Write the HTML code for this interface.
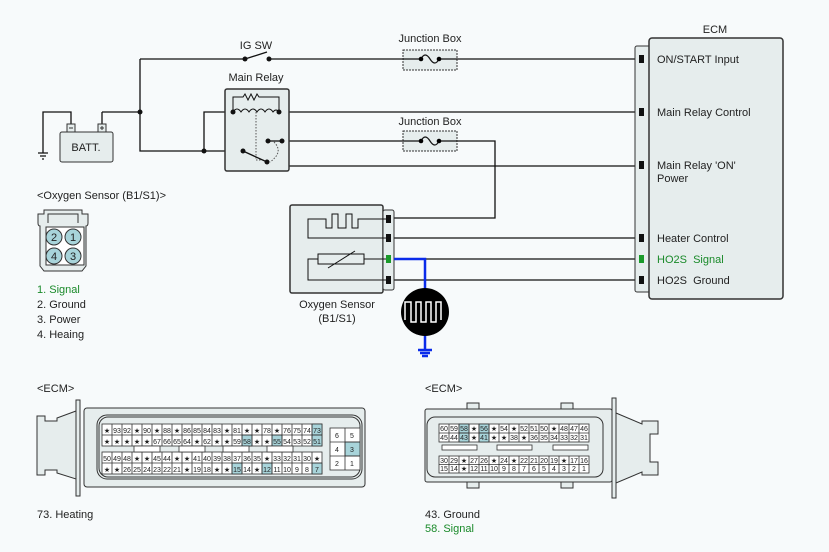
<!DOCTYPE html>
<html><head><meta charset="utf-8"><style>
body{margin:0;background:#f7fafb}
svg{display:block;font-family:"Liberation Sans",sans-serif}
.c text{font-size:7px;text-anchor:middle}
.pre{white-space:pre}
</style></head><body>
<svg width="829" height="552" viewBox="0 0 829 552" xmlns="http://www.w3.org/2000/svg">
<rect width="829" height="552" fill="#f7fafb"/>
<g fill="none" stroke="#111" stroke-width="1.3">
<path d="M140 59H245M269 59H403M457 59H637"/>
<path d="M245 59L267 52"/>
<path d="M140 59V151H204"/>
<path d="M204 151H243M204 151V112H233"/>
<path d="M102 112H140"/>
<path d="M102 112V124M71 124V112H43V153"/>
<path d="M38 153H48M40 156H46M42 159H44"/>
<path d="M279 112H637"/>
<path d="M289 141H403M457 141H495V218H394"/>
<path d="M282 141V166H637"/>
<path d="M394 238H637M394 259H637M394 280H637"/>
</g>
<rect x="60" y="132" width="53" height="30" rx="2" fill="#e6eded" stroke="#333"/>
<rect x="67" y="124" width="8" height="8" fill="#e6eded" stroke="#333"/>
<rect x="98" y="124" width="8" height="8" fill="#e6eded" stroke="#333"/>
<path d="M69 128h4M100 128h4M102 126v4" stroke="#333"/>
<text x="86" y="151" font-size="11" text-anchor="middle" fill="#222">BATT.</text>
<rect x="225" y="89" width="64" height="82" rx="2" fill="#e6eded" stroke="#333" stroke-width="1.5"/>
<path d="M233 112V97H243l2-3 3 6 3-6 3 6 3-6 2 3H279V112" fill="none" stroke="#111"/>
<path d="M233 112q4-6 8 0q4-6 8 0q4-6 8 0q4-6 8 0q4-6 8 0q3-4 6 0" fill="none" stroke="#111"/>
<path d="M256 112V160H265" stroke="#555" stroke-dasharray="1.5 1.5" fill="none"/>
<path d="M274 142q10 10 -4 20" stroke="#555" stroke-dasharray="1.5 1.5" fill="none"/>
<path d="M243 151L267 162" stroke="#111" stroke-width="1.3"/>
<path d="M268 141H282" stroke="#111" stroke-width="1.3"/>
<g fill="#111">
<circle cx="140" cy="112" r="2.5"/><circle cx="204" cy="151" r="2.5"/>
<circle cx="245" cy="59" r="2.5"/><circle cx="269" cy="59" r="2.5"/>
<circle cx="233" cy="112" r="2.5"/><circle cx="279" cy="112" r="2.5"/>
<circle cx="243" cy="151" r="2.5"/><circle cx="267" cy="162" r="2.5"/>
<circle cx="268" cy="141" r="2.5"/><circle cx="282" cy="141" r="2.5"/>
</g>
<text x="256" y="49" font-size="11" text-anchor="middle" fill="#222">IG SW</text>
<text x="256" y="81" font-size="11" text-anchor="middle" fill="#222">Main Relay</text>
<g>
<rect x="403" y="50" width="54" height="20" fill="#e6eded" stroke="#333" stroke-dasharray="2 1"/>
<path d="M403 59H421M439 59H457M421 59q4-8 9 0t9 0" fill="none" stroke="#111" stroke-width="1.2"/>
<circle cx="421" cy="59" r="2.3"/><circle cx="439" cy="59" r="2.3"/>
<rect x="403" y="131" width="54" height="20" fill="#e6eded" stroke="#333" stroke-dasharray="2 1"/>
<path d="M403 141H421M439 141H457M421 141q4-8 9 0t9 0" fill="none" stroke="#111" stroke-width="1.2"/>
<circle cx="421" cy="141" r="2.3"/><circle cx="439" cy="141" r="2.3"/>
</g>
<text x="430" y="42" font-size="11" text-anchor="middle" fill="#222">Junction Box</text>
<text x="430" y="125" font-size="11" text-anchor="middle" fill="#222">Junction Box</text>
<rect x="635" y="46" width="16" height="246" rx="2" fill="#e6eded" stroke="#333"/>
<rect x="649" y="38" width="134" height="261" rx="3" fill="#e6eded" stroke="#333" stroke-width="1.5"/>
<g fill="#111"><rect x="639" y="55" width="5" height="8"/><rect x="639" y="108" width="5" height="8"/><rect x="639" y="161" width="5" height="8"/><rect x="639" y="234" width="5" height="8"/><rect x="639" y="276" width="5" height="8"/></g>
<rect x="639" y="255" width="5" height="8" fill="#1a9a2a"/>
<g font-size="11" fill="#222">
<text x="715" y="33" text-anchor="middle">ECM</text>
<text x="657" y="63">ON/START Input</text>
<text x="657" y="116">Main Relay Control</text>
<text x="657" y="169">Main Relay 'ON'</text>
<text x="657" y="182">Power</text>
<text x="657" y="242">Heater Control</text>
<text x="657" y="263" fill="#1a8a2a" class="pre">HO2S  Signal</text>
<text x="657" y="284" class="pre">HO2S  Ground</text>
</g>
<rect x="290" y="205" width="93" height="88" rx="2" fill="#e6eded" stroke="#333" stroke-width="1.5"/>
<rect x="383" y="210" width="11" height="80" rx="2" fill="#e6eded" stroke="#333"/>
<path d="M388 219H358V228H352V214H346V228H338V214H332V228H326V219H308V238H388" fill="none" stroke="#111"/>
<path d="M388 259H364M318 259H308V280H388" fill="none" stroke="#111"/>
<rect x="318" y="254" width="46" height="10" fill="none" stroke="#111"/>
<path d="M328 268L355 251" stroke="#111"/>
<g fill="#111"><rect x="386" y="215" width="5" height="8"/><rect x="386" y="234" width="5" height="8"/><rect x="386" y="276" width="5" height="8"/></g>
<path d="M394 259H425V350M418 350H432M420 353H430M422 356H428" fill="none" stroke="#0a2bea" stroke-width="2.5"/>
<rect x="386" y="255" width="5" height="8" fill="#1a9a2a"/>
<circle cx="425" cy="312" r="24" fill="#000"/>
<path d="M405 320V302H411V322H416V302H421V322H426V302H431V322H436V302H441V320" fill="none" stroke="#fff" stroke-width="1.5"/>
<text x="337" y="308" font-size="11" text-anchor="middle" fill="#222">Oxygen Sensor</text>
<text x="337" y="322" font-size="11" text-anchor="middle" fill="#222">(B1/S1)</text>
<text x="37" y="199" font-size="11" fill="#222">&lt;Oxygen Sensor (B1/S1)&gt;</text>
<path d="M38 223V214H44V210H82V214H88V223Q88 226 86 226V266L82 271H44L40 266V226Q38 226 38 223Z" fill="#e6eded" stroke="#333"/>
<path d="M48 223V214H78V223" fill="none" stroke="#333"/>
<rect x="46" y="227" width="38" height="38" fill="#fff" stroke="#333"/>
<g fill="#a8d4da" stroke="#333"><circle cx="54" cy="237" r="8"/><circle cx="73" cy="237" r="8"/><circle cx="54" cy="256" r="8"/><circle cx="73" cy="256" r="8"/></g>
<g font-size="11" text-anchor="middle" fill="#222"><text x="54" y="241">2</text><text x="73" y="241">1</text><text x="54" y="260">4</text><text x="73" y="260">3</text></g>
<g font-size="11" fill="#222">
<text x="37" y="293" fill="#1a8a2a">1. Signal</text>
<text x="37" y="308">2. Ground</text>
<text x="37" y="323">3. Power</text>
<text x="37" y="338">4. Heaing</text>
<text x="37" y="392">&lt;ECM&gt;</text>
<text x="37" y="518">73. Heating</text>
<text x="425" y="392">&lt;ECM&gt;</text>
<text x="425" y="518">43. Ground</text>
<text x="425" y="532" fill="#1a8a2a">58. Signal</text>
</g>
<path d="M37 416H45V421H57V418L76 411V479L57 473V470H45V475H37Z" fill="#e6eded" stroke="#333"/>
<rect x="76" y="400" width="4" height="96" fill="#e6eded" stroke="#333"/>
<rect x="84" y="408" width="281" height="79" rx="3" fill="#e6eded" stroke="#333"/>
<rect x="97" y="415" width="265" height="64" rx="10" fill="none" stroke="#333"/>
<rect x="99" y="417" width="261" height="60" rx="9" fill="none" stroke="#333"/>
<g class="c" stroke="#333" stroke-width="0.8">
<rect x="102" y="424" width="220" height="22" fill="#fff"/>
<rect x="102" y="452" width="220" height="22" fill="#fff"/>
<g fill="#a8d4da"><rect x="312" y="424" width="10" height="11"/><rect x="242" y="435" width="10" height="11"/><rect x="272" y="435" width="10" height="11"/><rect x="312" y="435" width="10" height="11"/><rect x="232" y="463" width="10" height="11"/><rect x="262" y="463" width="10" height="11"/><rect x="312" y="463" width="10" height="11"/></g>
<path d="M102 435H322M102 463H322M112 424V446M122 424V446M132 424V446M142 424V446M152 424V446M162 424V446M172 424V446M182 424V446M192 424V446M202 424V446M212 424V446M222 424V446M232 424V446M242 424V446M252 424V446M262 424V446M272 424V446M282 424V446M292 424V446M302 424V446M312 424V446M112 452V474M122 452V474M132 452V474M142 452V474M152 452V474M162 452V474M172 452V474M182 452V474M192 452V474M202 452V474M212 452V474M222 452V474M232 452V474M242 452V474M252 452V474M262 452V474M272 452V474M282 452V474M292 452V474M302 452V474M312 452V474" fill="none"/>
<g fill="#fff"><rect x="134" y="446" width="26" height="6"/><rect x="179" y="446" width="26" height="6"/><rect x="223" y="446" width="26" height="6"/><rect x="267" y="446" width="26" height="6"/></g>
<rect x="330" y="428" width="30" height="42" fill="#fff"/>
<rect x="345" y="442" width="15" height="14" fill="#a8d4da"/>
<path d="M345 428V470M330 442H360M330 456H360" fill="none"/>
</g>
<g class="c" fill="#222">
<text x="107" y="433">★</text><text x="117" y="433">93</text><text x="127" y="433">92</text><text x="137" y="433">★</text><text x="147" y="433">90</text><text x="157" y="433">★</text><text x="167" y="433">88</text><text x="177" y="433">★</text><text x="187" y="433">86</text><text x="197" y="433">85</text><text x="207" y="433">84</text><text x="217" y="433">83</text><text x="227" y="433">★</text><text x="237" y="433">81</text><text x="247" y="433">★</text><text x="257" y="433">★</text><text x="267" y="433">78</text><text x="277" y="433">★</text><text x="287" y="433">76</text><text x="297" y="433">75</text><text x="307" y="433">74</text><text x="317" y="433">73</text>
<text x="107" y="444">★</text><text x="117" y="444">★</text><text x="127" y="444">★</text><text x="137" y="444">★</text><text x="147" y="444">★</text><text x="157" y="444">67</text><text x="167" y="444">66</text><text x="177" y="444">65</text><text x="187" y="444">64</text><text x="197" y="444">★</text><text x="207" y="444">62</text><text x="217" y="444">★</text><text x="227" y="444">★</text><text x="237" y="444">59</text><text x="247" y="444">58</text><text x="257" y="444">★</text><text x="267" y="444">★</text><text x="277" y="444">55</text><text x="287" y="444">54</text><text x="297" y="444">53</text><text x="307" y="444">52</text><text x="317" y="444">51</text>
<text x="107" y="461">50</text><text x="117" y="461">49</text><text x="127" y="461">48</text><text x="137" y="461">★</text><text x="147" y="461">★</text><text x="157" y="461">45</text><text x="167" y="461">44</text><text x="177" y="461">★</text><text x="187" y="461">★</text><text x="197" y="461">41</text><text x="207" y="461">40</text><text x="217" y="461">39</text><text x="227" y="461">38</text><text x="237" y="461">37</text><text x="247" y="461">36</text><text x="257" y="461">35</text><text x="267" y="461">★</text><text x="277" y="461">33</text><text x="287" y="461">32</text><text x="297" y="461">31</text><text x="307" y="461">30</text><text x="317" y="461">★</text>
<text x="107" y="472">★</text><text x="117" y="472">★</text><text x="127" y="472">26</text><text x="137" y="472">25</text><text x="147" y="472">24</text><text x="157" y="472">23</text><text x="167" y="472">22</text><text x="177" y="472">21</text><text x="187" y="472">★</text><text x="197" y="472">19</text><text x="207" y="472">18</text><text x="217" y="472">★</text><text x="227" y="472">★</text><text x="237" y="472">15</text><text x="247" y="472">14</text><text x="257" y="472">★</text><text x="267" y="472">12</text><text x="277" y="472">11</text><text x="287" y="472">10</text><text x="297" y="472">9</text><text x="307" y="472">8</text><text x="317" y="472">7</text>
<text x="337" y="438">6</text><text x="352" y="438">5</text><text x="337" y="452">4</text><text x="352" y="452">3</text><text x="337" y="466">2</text><text x="352" y="466">1</text>
</g>
<rect x="467" y="403" width="12" height="8" fill="#e6eded" stroke="#333"/><rect x="561" y="403" width="12" height="8" fill="#e6eded" stroke="#333"/>
<rect x="467" y="480" width="12" height="8" fill="#e6eded" stroke="#333"/><rect x="561" y="480" width="12" height="8" fill="#e6eded" stroke="#333"/>
<rect x="425" y="409" width="187" height="73" rx="2" fill="#e6eded" stroke="#333"/>
<rect x="427" y="417" width="176" height="60" rx="8" fill="none" stroke="#333"/>
<rect x="612" y="398" width="4" height="100" fill="#e6eded" stroke="#333"/>
<path d="M616 413L642 424V421H658V434H650V462H658V475H642V472L616 483Z" fill="#e6eded" stroke="#333"/>
<g stroke="#333" stroke-width="0.8">
<rect x="439" y="424" width="150" height="18" fill="#fff"/>
<rect x="439" y="456" width="150" height="17" fill="#fff"/>
<g fill="#a8d4da"><rect x="459" y="424" width="10" height="9"/><rect x="479" y="424" width="10" height="9"/><rect x="459" y="433" width="10" height="9"/><rect x="479" y="433" width="10" height="9"/></g>
<path d="M439 433H589M439 464.5H589M449 424V442M459 424V442M469 424V442M479 424V442M489 424V442M499 424V442M509 424V442M519 424V442M529 424V442M539 424V442M549 424V442M559 424V442M569 424V442M579 424V442M449 456V473M459 456V473M469 456V473M479 456V473M489 456V473M499 456V473M509 456V473M519 456V473M529 456V473M539 456V473M549 456V473M559 456V473M569 456V473M579 456V473" fill="none"/>
<g fill="#fff"><rect x="442" y="445" width="35" height="5"/><rect x="497" y="445" width="35" height="5"/><rect x="553" y="445" width="35" height="5"/></g>
</g>
<g class="c" fill="#222">
<text x="444" y="431">60</text><text x="454" y="431">59</text><text x="464" y="431">58</text><text x="474" y="431">★</text><text x="484" y="431">56</text><text x="494" y="431">★</text><text x="504" y="431">54</text><text x="514" y="431">★</text><text x="524" y="431">52</text><text x="534" y="431">51</text><text x="544" y="431">50</text><text x="554" y="431">★</text><text x="564" y="431">48</text><text x="574" y="431">47</text><text x="584" y="431">46</text>
<text x="444" y="440">45</text><text x="454" y="440">44</text><text x="464" y="440">43</text><text x="474" y="440">★</text><text x="484" y="440">41</text><text x="494" y="440">★</text><text x="504" y="440">★</text><text x="514" y="440">38</text><text x="524" y="440">★</text><text x="534" y="440">36</text><text x="544" y="440">35</text><text x="554" y="440">34</text><text x="564" y="440">33</text><text x="574" y="440">32</text><text x="584" y="440">31</text>
<text x="444" y="463">30</text><text x="454" y="463">29</text><text x="464" y="463">★</text><text x="474" y="463">27</text><text x="484" y="463">26</text><text x="494" y="463">★</text><text x="504" y="463">24</text><text x="514" y="463">★</text><text x="524" y="463">22</text><text x="534" y="463">21</text><text x="544" y="463">20</text><text x="554" y="463">19</text><text x="564" y="463">★</text><text x="574" y="463">17</text><text x="584" y="463">16</text>
<text x="444" y="471">15</text><text x="454" y="471">14</text><text x="464" y="471">★</text><text x="474" y="471">12</text><text x="484" y="471">11</text><text x="494" y="471">10</text><text x="504" y="471">9</text><text x="514" y="471">8</text><text x="524" y="471">7</text><text x="534" y="471">6</text><text x="544" y="471">5</text><text x="554" y="471">4</text><text x="564" y="471">3</text><text x="574" y="471">2</text><text x="584" y="471">1</text>
</g>
</svg>
</body></html>
